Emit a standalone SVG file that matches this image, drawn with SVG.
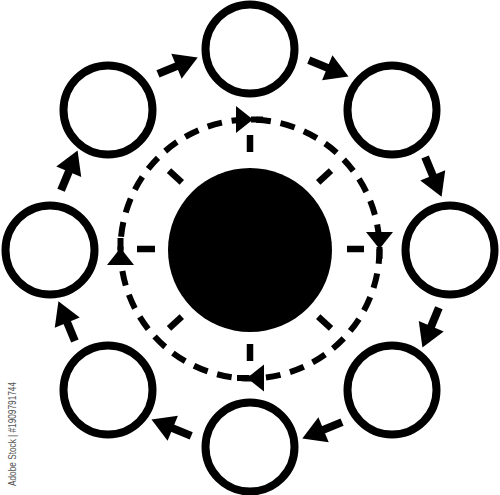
<svg xmlns="http://www.w3.org/2000/svg" xmlns:xlink="http://www.w3.org/1999/xlink" width="500" height="495" viewBox="0 0 500 495">
<style>
.node{fill:none;stroke:#000;stroke-width:8}
.tick{stroke:#000;stroke-width:6.5}
.dash{fill:none;stroke:#000;stroke-width:6;stroke-dasharray:15 10}
.wm{font-family:"Liberation Sans",Arial,sans-serif;font-size:10.5px;fill:#555}
</style>
<defs>
<g id="arr"><line x1="-18" y1="0" x2="5" y2="0" stroke="#000" stroke-width="8"/><polygon points="2,-13.5 25,0 2,13.5" fill="#000"/></g>
<g id="dh"><line x1="-2" y1="0" x2="10" y2="0" stroke="#000" stroke-width="6"/><polygon points="-17,-13.5 0,0 -17,13.5" fill="#000"/></g>
</defs>
<rect width="500" height="495" fill="#fff"/>
<g id="hub">
<circle cx="250" cy="250" r="82" fill="#000"/>
<circle class="dash" cx="250" cy="249" r="129.5" pathLength="825"/>
<g class="tick">
<line x1="250" y1="152" x2="250" y2="135"/>
<line x1="347" y1="249" x2="364" y2="249"/>
<line x1="250" y1="344" x2="250" y2="361"/>
<line x1="155" y1="249" x2="137" y2="249"/>
<line x1="318.2" y1="182.4" x2="331" y2="170.6"/>
<line x1="318.2" y1="316.6" x2="331" y2="328.4"/>
<line x1="181.8" y1="316.6" x2="169" y2="328.4"/>
<line x1="181.8" y1="182.4" x2="169" y2="170.6"/>
</g>
<use xlink:href="#dh" transform="translate(253,119.5)"/>
<use xlink:href="#dh" transform="translate(379.5,249) rotate(90)"/>
<use xlink:href="#dh" transform="translate(247,378) rotate(180)"/>
<use xlink:href="#dh" transform="translate(120.5,248) rotate(270)"/>
</g>
<g id="n1"><circle class="node" cx="250" cy="49" r="44.5"/></g>
<g id="n2"><circle class="node" cx="392" cy="110" r="44.5"/></g>
<g id="n3"><circle class="node" cx="450" cy="250" r="44.5"/></g>
<g id="n4"><circle class="node" cx="392" cy="390" r="44.5"/></g>
<g id="n5"><circle class="node" cx="250" cy="447" r="44.5"/></g>
<g id="n6"><circle class="node" cx="108" cy="390" r="44.5"/></g>
<g id="n7"><circle class="node" cx="50" cy="250" r="44.5"/></g>
<g id="n8"><circle class="node" cx="108" cy="110" r="44.5"/></g>
<g id="connectors">
<use xlink:href="#arr" transform="translate(174.6,67) rotate(-22.5)"/>
<use xlink:href="#arr" transform="translate(325.4,67) rotate(22.5)"/>
<use xlink:href="#arr" transform="translate(432,173.6) rotate(67.5)"/>
<use xlink:href="#arr" transform="translate(432,324.4) rotate(112.5)"/>
<use xlink:href="#arr" transform="translate(325.4,429) rotate(157.5)"/>
<use xlink:href="#arr" transform="translate(174.6,429) rotate(202.5)"/>
<use xlink:href="#arr" transform="translate(68,324.4) rotate(247.5)"/>
<use xlink:href="#arr" transform="translate(68,173.6) rotate(292.5)"/>
</g>
<text class="wm" transform="translate(16,486) rotate(-90)" textLength="104" lengthAdjust="spacingAndGlyphs">Adobe Stock | #1909791744</text>
</svg>
